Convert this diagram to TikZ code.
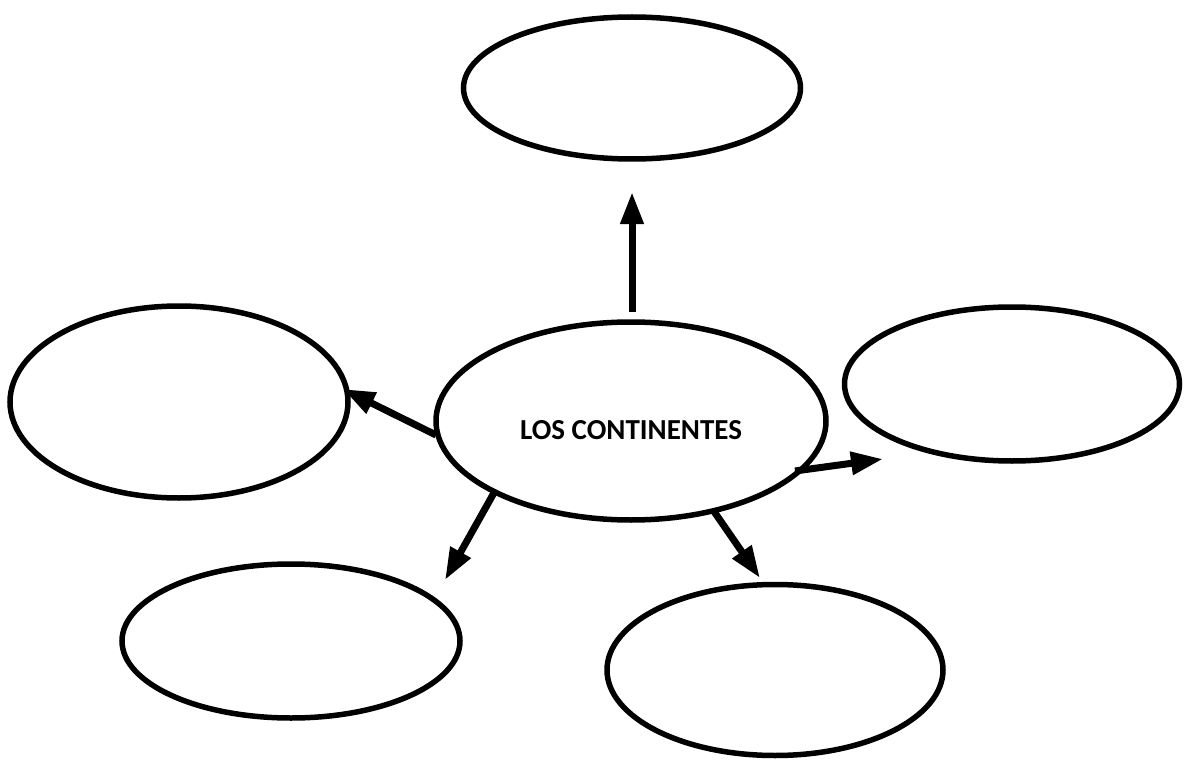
\documentclass[tikz,border=0pt]{standalone}
\usepackage{fontspec}
\setmainfont{Carlito}
\usetikzlibrary{shapes.geometric,arrows.meta}
\begin{document}
\begin{tikzpicture}[x=1pt,y=-1pt,
  bubble/.style={draw=black,line width=5.5pt,ellipse,inner sep=0pt,fill=white},
  conn/.style={line width=7pt,-{Triangle[length=32pt,width=22pt]}}]
\useasboundingbox[fill=white] (0,0) rectangle (1187,765);
\node[bubble,minimum width=337pt,minimum height=142pt] (t) at (632,88) {};
\node[bubble,minimum width=390pt,minimum height=198pt] (c) at (631,421) {\fontsize{29}{34}\selectfont\bfseries\raisebox{-18pt}[0pt][0pt]{LOS CONTINENTES}};
\node[bubble,minimum width=338pt,minimum height=192pt] (l) at (179,402) {};
\node[bubble,minimum width=335pt,minimum height=154pt] (r) at (1012,384) {};
\node[bubble,minimum width=338pt,minimum height=154pt] (bl) at (291,641) {};
\node[bubble,minimum width=336pt,minimum height=171pt] (br) at (775,670) {};
\coordinate (ts) at (632,312); \coordinate (te) at (632,192);
\coordinate (ls) at (436,435); \coordinate (le) at (343,389);
\coordinate (rs) at (795,471); \coordinate (re) at (883,459);
\coordinate (bls) at (495,491); \coordinate (ble) at (445,580);
\coordinate (brs) at (713,510); \coordinate (bre) at (760,578);
\draw[conn] (ts) -- (te);
\draw[conn] (ls) -- (le);
\draw[conn] (rs) -- (re);
\draw[conn] (bls) -- (ble);
\draw[conn] (brs) -- (bre);
\end{tikzpicture}
\end{document}
